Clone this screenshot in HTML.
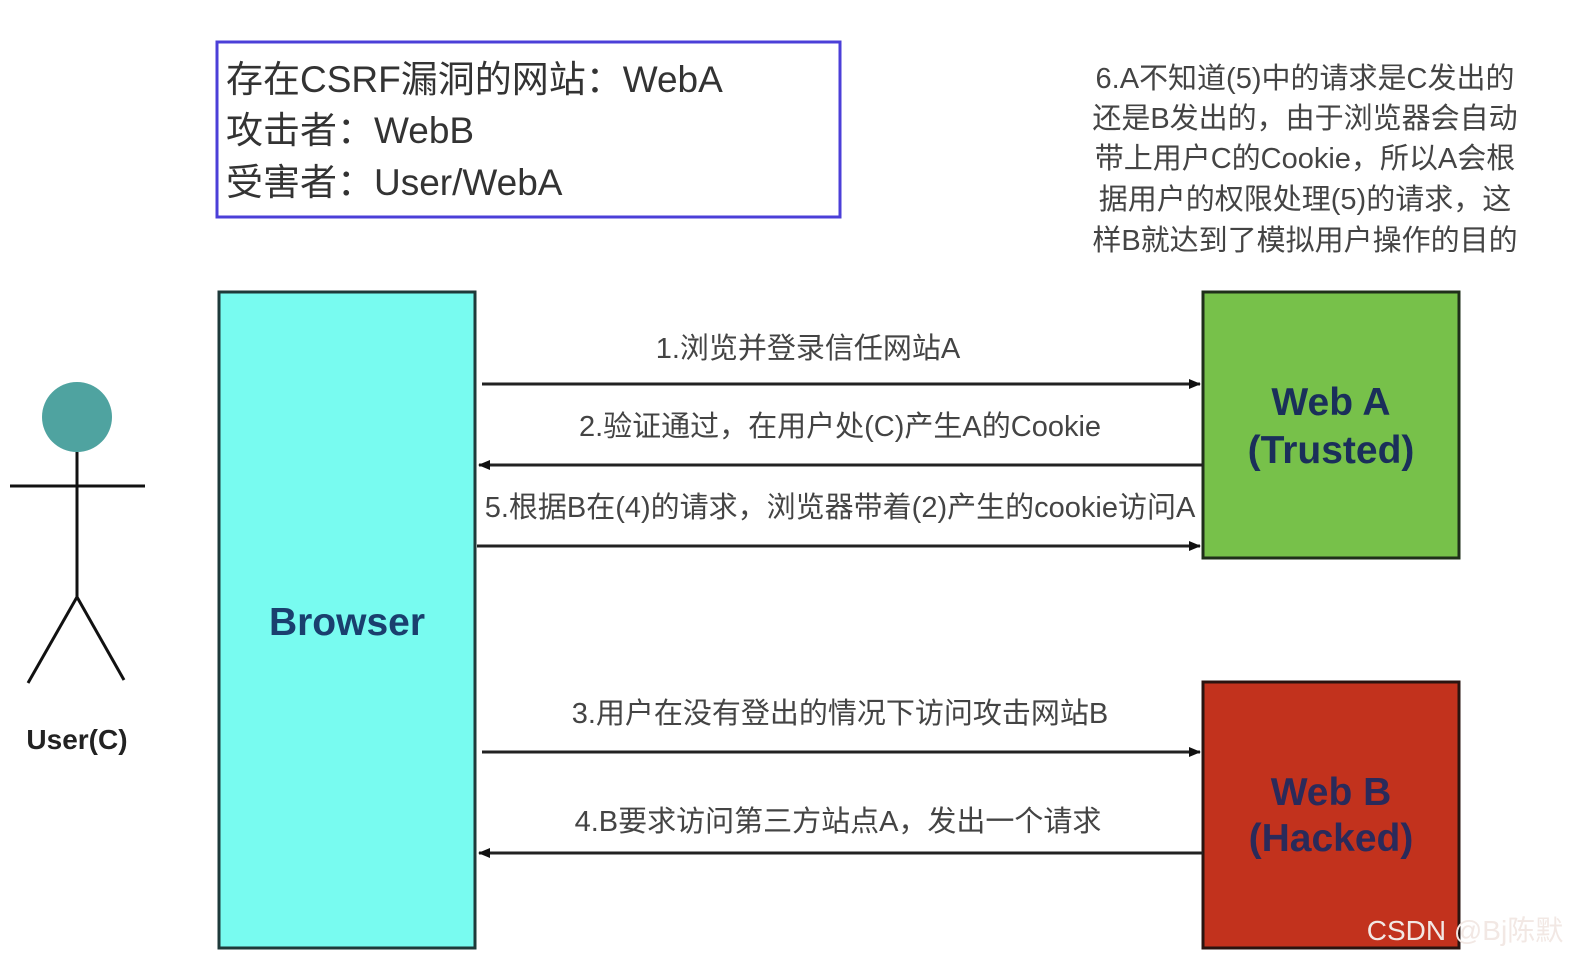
<!DOCTYPE html>
<html><head><meta charset="utf-8"><style>
html,body{margin:0;padding:0;background:#fff;}
svg text{font-family:"Liberation Sans","Noto Sans CJK SC",sans-serif;}
</style></head><body>
<svg width="1587" height="970" viewBox="0 0 1587 970" xmlns="http://www.w3.org/2000/svg">
<defs>
<marker id="ar" markerWidth="12" markerHeight="10" refX="11" refY="5" orient="auto" markerUnits="userSpaceOnUse">
<path d="M0,0 L12,5 L0,10 z" fill="#111"/></marker>
</defs>
<rect x="217" y="42" width="623" height="175" fill="#fff" stroke="#4b3fd8" stroke-width="3"/>
<text x="226" y="92" font-size="37" fill="#333">存在CSRF漏洞的网站：WebA</text>
<text x="226" y="143" font-size="37" fill="#333">攻击者：WebB</text>
<text x="226" y="195" font-size="37" fill="#333">受害者：User/WebA</text>
<g font-size="29" fill="#444" text-anchor="middle">
<text x="1305" y="88">6.A不知道(5)中的请求是C发出的</text>
<text x="1305" y="128">还是B发出的，由于浏览器会自动</text>
<text x="1305" y="168">带上用户C的Cookie，所以A会根</text>
<text x="1305" y="209">据用户的权限处理(5)的请求，这</text>
<text x="1305" y="250">样B就达到了模拟用户操作的目的</text>
</g>
<rect x="219" y="292" width="256" height="656" fill="#78fbf0" stroke="#1e3a3a" stroke-width="3"/>
<text x="347" y="635" font-size="39" font-weight="bold" fill="#1a3f6e" text-anchor="middle">Browser</text>
<rect x="1203" y="292" width="256" height="266" fill="#77c14a" stroke="#1f2f1a" stroke-width="3"/>
<text x="1331" y="415" font-size="39" font-weight="bold" fill="#1a2f5a" text-anchor="middle">Web A</text>
<text x="1331" y="463" font-size="39" font-weight="bold" fill="#1a2f5a" text-anchor="middle">(Trusted)</text>
<rect x="1203" y="682" width="256" height="266" fill="#c2321d" stroke="#2a1410" stroke-width="3"/>
<text x="1331" y="805" font-size="39" font-weight="bold" fill="#2a2a5a" text-anchor="middle">Web B</text>
<text x="1331" y="851" font-size="39" font-weight="bold" fill="#2a2a5a" text-anchor="middle">(Hacked)</text>
<text x="1465" y="940" font-size="28" fill="#f2e8e4" text-anchor="middle">CSDN @Bj陈默</text>
<g stroke="#222" stroke-width="3" fill="none">
<line x1="482" y1="384" x2="1200" y2="384" marker-end="url(#ar)"/>
<line x1="1203" y1="465" x2="479" y2="465" marker-end="url(#ar)"/>
<line x1="477" y1="546" x2="1200" y2="546" marker-end="url(#ar)"/>
<line x1="482" y1="752" x2="1200" y2="752" marker-end="url(#ar)"/>
<line x1="1203" y1="853" x2="479" y2="853" marker-end="url(#ar)"/>
</g>
<g font-size="29" fill="#444" text-anchor="middle">
<text x="808" y="358">1.浏览并登录信任网站A</text>
<text x="840" y="436">2.验证通过，在用户处(C)产生A的Cookie</text>
<text x="840" y="517">5.根据B在(4)的请求，浏览器带着(2)产生的cookie访问A</text>
<text x="840" y="723">3.用户在没有登出的情况下访问攻击网站B</text>
<text x="838" y="831">4.B要求访问第三方站点A，发出一个请求</text>
</g>
<circle cx="77" cy="417" r="35" fill="#4fa3a0"/>
<g stroke="#111" stroke-width="3" fill="none">
<line x1="77" y1="452" x2="77" y2="597"/>
<line x1="10" y1="486" x2="145" y2="486"/>
<line x1="77" y1="597" x2="28" y2="683"/>
<line x1="77" y1="597" x2="124" y2="680"/>
</g>
<text x="77" y="749" font-size="28" font-weight="bold" fill="#222" text-anchor="middle">User(C)</text>
</svg>
</body></html>
